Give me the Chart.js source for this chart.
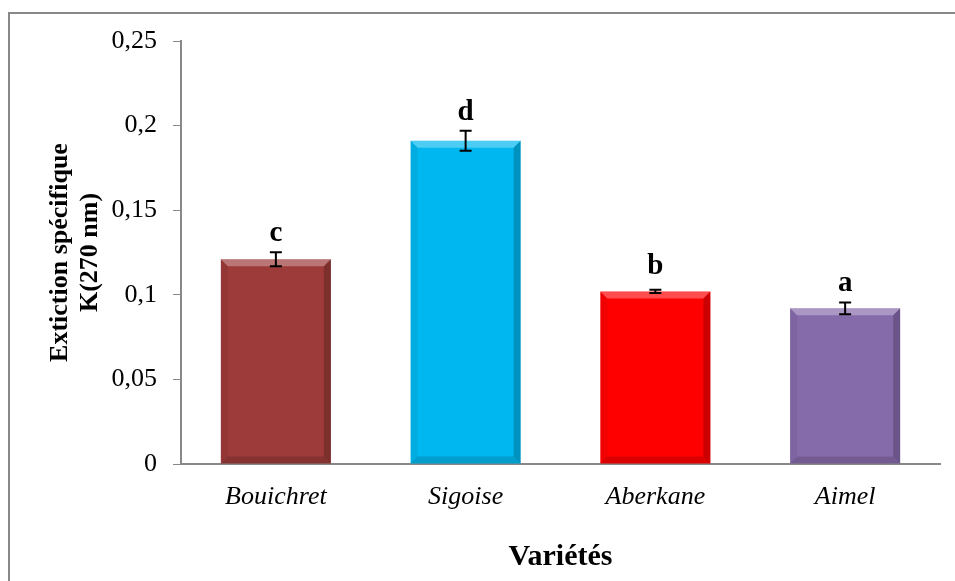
<!DOCTYPE html>
<html>
<head>
<meta charset="utf-8">
<script src="https://cdn.jsdelivr.net/npm/chart.js@4"></script>
<style>
  html, body { margin: 0; padding: 0; background: #fff; }
  #wrap { position: relative; width: 955px; height: 581px; }
</style>
</head>
<body>
<div id="wrap"><canvas id="chart" width="955" height="581"></canvas></div>
<script>
// ── Data ────────────────────────────────────────────
const varieties  = ['Bouichret', 'Sigoise', 'Aberkane', 'Aimel'];
const k270       = [0.121, 0.191, 0.102, 0.092];
const k270Err    = [0.0041, 0.0059, 0.0010, 0.0035];
const groupLabels = ['c', 'd', 'b', 'a'];
const barColors  = ['#9C3B39', '#00B7EF', '#FF0000', '#866BAB'];

const SERIF = "'Liberation Serif','Times New Roman',serif";
const AXIS_GRAY = '#888888';

// ── Bevel look of the bars ──────────────────────────
const bevelPlugin = {
  id: 'bevel',
  afterDatasetsDraw(chart) {
    const ctx = chart.ctx;
    const meta = chart.getDatasetMeta(0);
    meta.data.forEach(bar => {
      const L = bar.x - bar.width / 2, R = bar.x + bar.width / 2;
      const T = bar.y, B = bar.base, b = 7;
      const poly = (pts, fill) => {
        ctx.beginPath();
        ctx.moveTo(pts[0][0], pts[0][1]);
        pts.slice(1).forEach(p => ctx.lineTo(p[0], p[1]));
        ctx.closePath();
        ctx.fillStyle = fill;
        ctx.fill();
      };
      ctx.save();
      poly([[L, T], [R, T], [R - b, T + b], [L + b, T + b]], 'rgba(255,255,255,0.3)');
      poly([[R, T], [R, B], [R - b, B - b], [R - b, T + b]], 'rgba(0,0,0,0.2)');
      poly([[L, B], [R, B], [R - b, B - b], [L + b, B - b]], 'rgba(0,0,0,0.14)');
      poly([[L, T], [L + b, T + b], [L + b, B - b], [L, B]], 'rgba(0,0,0,0.06)');
      ctx.restore();
    });
  }
};

// ── Error bars + significance letters ───────────────
const errorPlugin = {
  id: 'errors',
  afterDatasetsDraw(chart) {
    const ctx = chart.ctx;
    const y = chart.scales.y;
    const meta = chart.getDatasetMeta(0);
    ctx.save();
    meta.data.forEach((bar, i) => {
      const hi = y.getPixelForValue(k270[i] + k270Err[i]);
      const lo = y.getPixelForValue(k270[i] - k270Err[i]);
      const x = bar.x, cap = 6;
      ctx.strokeStyle = '#000';
      ctx.lineWidth = 2;
      ctx.beginPath();
      ctx.moveTo(x, hi); ctx.lineTo(x, lo);
      ctx.moveTo(x - cap, hi); ctx.lineTo(x + cap, hi);
      ctx.moveTo(x - cap, lo); ctx.lineTo(x + cap, lo);
      ctx.stroke();

      ctx.fillStyle = '#000';
      ctx.font = 'bold 29px ' + SERIF;
      ctx.textAlign = 'center';
      ctx.textBaseline = 'alphabetic';
      ctx.fillText(groupLabels[i], x, Math.min(hi, bar.y - 6) - 11);
    });
    ctx.restore();
  }
};

// ── Outer frame (top and left edges only) ───────────
const framePlugin = {
  id: 'frame',
  beforeDraw(chart) {
    const ctx = chart.ctx;
    ctx.save();
    ctx.fillStyle = '#fff';
    ctx.fillRect(0, 0, chart.width, chart.height);
    ctx.strokeStyle = AXIS_GRAY;
    ctx.lineWidth = 2;
    ctx.beginPath();
    ctx.moveTo(9, chart.height);
    ctx.lineTo(9, 13);
    ctx.lineTo(chart.width, 13);
    ctx.stroke();
    ctx.restore();
  }
};

new Chart(document.getElementById('chart'), {
  type: 'bar',
  data: {
    labels: varieties,
    datasets: [{
      data: k270,
      backgroundColor: barColors,
      borderWidth: 0,
      categoryPercentage: 1,
      barPercentage: 0.58,
    }],
  },
  options: {
    responsive: false,
    animation: false,
    layout: { padding: { top: 41, right: 15, left: 0, bottom: 0 } },
    plugins: { legend: { display: false }, tooltip: { enabled: false } },
    scales: {
      x: {
        afterFit: s => { s.height = 117; },
        grid: { display: false, drawTicks: false },
        border: { display: true, color: AXIS_GRAY, width: 2 },
        ticks: {
          color: '#000', padding: 18,
          font: { family: SERIF, size: 26, style: 'italic' },
        },
        title: {
          display: true, text: 'Variétés', color: '#000',
          padding: { top: 0, bottom: 6 },
          font: { family: SERIF, size: 30, weight: 'bold' },
        },
      },
      y: {
        min: 0, max: 0.25,
        afterFit: s => { s.width = 181; },
        grid: { display: true, drawOnChartArea: false, drawTicks: true, tickLength: 8, color: AXIS_GRAY, lineWidth: 1 },
        border: { display: true, color: AXIS_GRAY, width: 2 },
        ticks: {
          stepSize: 0.05, color: '#000', padding: 16,
          font: { family: SERIF, size: 26 },
          callback: v => String(Number(v.toFixed(2))).replace('.', ','),
        },
        title: {
          display: true, text: ['Extiction spécifique', 'K(270 nm)'], color: '#000',
          padding: { top: 45, bottom: 0 },
          font: { family: SERIF, size: 26, weight: 'bold', lineHeight: 1.15 },
        },
      },
    },
  },
  plugins: [framePlugin, bevelPlugin, errorPlugin],
});
</script>
</body>
</html>
